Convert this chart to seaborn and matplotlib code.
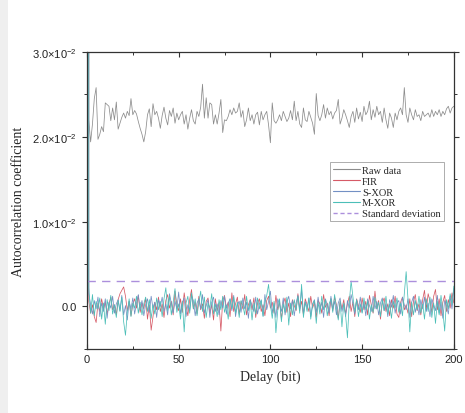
import numpy as np
import pandas as pd
import matplotlib
matplotlib.use("Agg")
import matplotlib.pyplot as plt
import seaborn as sns
from matplotlib.ticker import MultipleLocator
from matplotlib.patches import Rectangle

# ---------------- data (values in units of 1e-3, delay 1..200) ----------------
delay = list(range(0, 201))
zero_lag = [1000.0]  # autocorrelation at zero delay (off the chart)

raw_data = [
    22.0, 19.4, 21.5, 24.5, 25.8, 19.7, 20.3, 21.2, 20.6, 24.0,
    23.8, 23.6, 21.9, 23.4, 22.0, 24.1, 20.9, 21.6, 22.3, 22.8,
    22.2, 23.0, 22.5, 24.5, 22.6, 23.1, 22.7, 21.8, 21.0, 20.3,
    19.4, 20.6, 22.6, 23.3, 21.2, 23.9, 22.6, 23.0, 22.2, 21.0,
    22.5, 23.5, 22.2, 21.4, 23.1, 22.4, 23.4, 21.6, 22.8, 22.0,
    22.6, 23.0, 21.5, 22.6, 20.9, 22.2, 23.2, 21.9, 21.5, 23.0,
    22.4, 23.5, 26.2, 22.2, 24.6, 22.2, 24.0, 23.8, 21.5, 22.6,
    21.5, 22.8, 24.4, 20.5, 22.0, 21.9, 22.4, 23.2, 22.6, 23.4,
    22.8, 23.0, 24.0, 22.3, 23.1, 21.2, 22.0, 23.4, 21.9, 22.6,
    21.5, 22.6, 22.9, 21.4, 23.0, 22.0, 22.6, 23.0, 21.4, 19.3,
    24.0, 21.9, 21.6, 22.0, 22.6, 21.9, 23.0, 22.4, 21.8, 22.2,
    23.1, 22.0, 24.2, 21.9, 23.0, 21.5, 21.1, 23.4, 22.0, 21.8,
    23.0, 22.3, 21.6, 20.3, 25.1, 22.5, 21.9, 22.6, 23.8, 22.2,
    23.4, 22.6, 23.0, 22.1, 22.8, 23.1, 24.4, 21.5, 22.2, 23.2,
    22.6, 21.9, 21.1, 22.4, 23.0, 21.7, 23.4, 22.1, 22.9, 21.8,
    23.6, 22.6, 23.0, 24.2, 22.0, 23.2, 22.3, 23.6, 22.6, 23.0,
    21.7, 23.4, 22.0, 21.0, 22.8, 22.2, 21.1, 22.8, 22.0, 23.0,
    23.4, 22.6, 25.8, 22.6, 21.7, 23.4, 22.6, 22.0, 23.2, 22.4,
    22.6, 21.9, 23.0, 22.4, 22.6, 22.8, 22.3, 23.2, 22.4, 23.0,
    22.6, 23.2, 22.4, 23.0, 22.6, 23.3, 23.6, 22.8, 23.4, 23.6,
]

fir = [
    0.6, -0.8, 0.2, -1.2, -1.9, 0.4, -0.6, 0.9, -0.3, 0.5,
    -0.9, 0.3, 1.1, -0.4, 0.2, -1.0, 0.8, 1.5, 1.9, 2.3,
    1.2, -0.5, 0.6, -1.1, 0.3, 0.9, -0.2, 1.3, -0.7, 0.4,
    -0.3, 1.0, -1.5, 0.2, -2.8, -1.2, 0.5, -0.4, 1.1, -0.6,
    0.3, -1.3, 0.7, 1.4, -0.2, 0.6, -1.0, 1.8, 0.2, -0.5,
    0.9, -0.7, 1.6, 0.1, -1.1, 0.8, 2.0, -0.3, 0.5, -0.9,
    1.2, -0.4, 0.3, -1.4, 0.6, 1.0, -0.8, 0.2, -1.6, 0.9,
    -0.5, 0.4, -2.9, 0.7, 1.3, -0.2, 0.5, -1.2, 1.6, -0.6,
    0.3, 1.1, -0.9, 0.6, -0.3, 1.4, -1.0, 0.2, 0.8, -0.4,
    1.0, -1.3, 0.4, 0.9, -0.6, 0.2, -1.1, 0.7, 1.2, -0.2,
    0.5, -0.8, 1.3, -0.4, 0.6, -1.5, 0.3, 1.0, -0.7, 0.4,
    -1.2, 0.8, 0.1, -0.5, 1.5, -0.3, 0.6, -1.0, 0.9, 0.2,
    -0.6, 1.2, -0.2, 0.5, -1.3, 0.7, 0.3, -0.8, 1.4, -0.1,
    0.4, -1.1, 0.9, -0.5, 1.1, 0.2, -1.4, 0.6, -0.3, 0.8,
    -0.9, 0.3, 1.2, -0.6, 0.5, -1.2, 0.9, 0.1, -0.7, 1.0,
    -0.4, 0.6, -1.0, 1.3, 0.2, -0.8, 1.8, -0.3, 0.7, -1.5,
    0.4, 1.0, -0.6, 0.3, -1.1, 0.8, -0.2, 1.2, -0.9, -1.3,
    0.5, 1.1, -0.4, 0.2, -0.8, 0.9, -1.2, 0.6, 1.4, -0.5,
    0.3, -1.0, 0.8, 1.9, -0.3, 1.5, 0.6, -0.7, 1.2, 2.0,
    -0.4, 0.9, -1.1, 0.5, 1.3, -0.6, 0.8, -0.2, 1.6, 0.4,
]

s_xor = [
    1.5, 0.2, -0.9, 0.7, -0.3, 1.1, -1.2, 0.4, -0.6, 0.9,
    -1.4, 0.5, -0.2, 1.2, -0.8, 0.3, 0.8, -0.5, 1.3, -1.0,
    0.1, -1.6, 0.6, -0.3, 1.0, -0.9, 0.4, 1.4, -0.4, 0.7,
    -1.1, 0.2, 0.9, -0.7, 1.2, -0.2, 0.5, -1.3, 0.8, 0.0,
    1.1, -0.6, 0.3, -1.0, 1.5, 0.4, -0.8, 0.6, -0.3, 1.7,
    -0.9, 0.5, 1.0, -1.2, 0.2, -0.5, 1.3, 0.7, -1.1, 0.4,
    0.9, -0.3, 1.4, -0.8, 0.1, 0.8, -1.3, 0.5, 1.1, -0.6,
    0.3, -1.0, 0.7, -0.2, 1.2, -0.9, 0.4, 0.9, -0.5, 1.3,
    -1.2, 0.2, 0.6, -0.7, 1.0, -0.3, 0.5, -1.4, 0.8, 0.1,
    -0.6, 1.1, -0.9, 0.3, 0.7, -1.1, 1.4, -0.4, 0.6, 1.8,
    -0.8, 0.4, -1.3, 0.9, 0.2, -0.6, 1.0, -1.0, 0.5, 1.2,
    -0.3, 0.7, -1.1, 0.4, 1.3, -0.5, 2.1, -0.9, 0.6, -0.2,
    1.0, -1.2, 0.3, 0.8, -0.7, 1.1, -0.4, 0.5, -1.3, 0.9,
    0.2, -0.8, 1.2, -0.3, 0.6, -1.0, 0.4, 1.0, -0.6, 0.3,
    -1.2, 0.7, -0.2, 1.4, 0.3, -0.9, 0.8, -0.4, 1.1, -0.7,
    0.5, -1.1, 0.9, 0.1, -0.6, 1.2, -0.3, 0.6, -1.0, 0.4,
    1.0, -0.5, 0.3, -1.2, 0.8, -0.1, 1.3, -0.8, 0.4, 0.7,
    -0.9, 1.1, 0.2, -0.4, 0.9, -1.3, 0.5, 1.2, -0.7, 0.3,
    -1.0, 0.8, -0.3, 1.1, -0.6, 0.4, -1.2, 0.9, 0.2, -0.5,
    1.3, -0.8, 0.5, -1.4, 0.7, 0.1, -0.9, 1.2, -0.3, 2.1,
]

m_xor = [
    2.2, -0.8, 1.4, -1.1, 0.6, -0.3, 1.0, -1.5, 0.4, -2.1,
    0.8, -0.5, 1.3, -0.9, 0.2, -1.3, 0.7, -0.6, 1.1, -1.8,
    -3.4, -0.7, 0.9, -1.2, 0.4, -0.2, 1.2, -0.8, 0.5, -1.0,
    0.3, 1.1, -0.6, 0.8, -1.4, 0.2, -0.9, 1.0, -0.4, 0.6,
    -1.2, 0.9, 2.2, -0.5, 1.3, -1.0, 0.5, 2.1, -0.7, 0.3,
    -1.5, 0.6, -3.0, 0.4, 1.2, -0.8, 1.6, -0.3, 0.9, -1.1,
    0.5, 1.8, -0.6, 1.1, -1.3, 0.4, -0.2, 1.5, -0.9, 0.3,
    -1.2, 0.8, -0.4, 1.2, -0.7, 0.2, -1.5, 0.9, -0.3, 1.1,
    -0.8, 0.5, -1.3, 0.7, 0.1, -1.0, 1.2, -0.5, 0.6, -1.6,
    0.4, -0.9, 1.0, -0.3, 0.8, -1.2, 0.5, 1.3, 2.6, 0.2,
    -1.4, 0.6, -3.1, -0.5, 0.9, -1.8, 0.3, -0.7, 1.1, -2.2,
    0.4, -1.0, 0.8, -0.4, 1.2, -0.8, 2.6, -1.3, 0.5, -0.6,
    1.0, -1.5, 0.2, 0.7, -2.0, 0.5, -0.9, 1.2, -0.4, 0.8,
    -1.1, 0.3, 0.9, -0.7, 1.4, -0.2, -1.6, 0.6, -2.4, 0.4,
    -1.0, -3.7, 0.5, 3.0, 1.1, -0.6, 0.8, -1.2, 0.3, -0.8,
    1.0, -0.4, 0.6, -1.5, 0.2, -0.7, 1.1, -0.3, 0.5, -1.2,
    0.8, -0.5, 1.2, -0.9, 0.3, -1.4, 0.6, -0.2, 1.0, -0.7,
    0.4, -1.1, 1.5, 4.1, 0.9, -3.0, 0.5, -1.0, 0.7, -0.4,
    1.2, -0.8, 0.3, -1.5, 0.9, -0.6, 1.1, -1.3, 0.4, -2.0,
    0.6, -1.0, 1.3, -0.5, -2.9, 0.8, -0.3, 1.5, 0.2, 2.4,
]

std_dev = [3.0]  # standard deviation threshold (1e-3)

series_names = ["Raw data", "FIR", "S-XOR", "M-XOR"]
series_values = [raw_data, fir, s_xor, m_xor]
colors = ["#8c8c8c", "#d65a66", "#7390c4", "#4cbfb8"]
std_color = "#ac8fdc"

yticks = [0.0, 0.01, 0.02, 0.03]
ytick_labels = ["0.0", r"$1.0{\times}10^{-2}$", r"$2.0{\times}10^{-2}$", r"$3.0{\times}10^{-2}$"]
xticks = [0, 50, 100, 150, 200]

# ---------------- build long table ----------------
frames = []
for name, vals in zip(series_names, series_values):
    frames.append(pd.DataFrame({
        "Delay": delay,
        "value": np.array(zero_lag + vals) * 1e-3,
        "series": name,
    }))
df = pd.concat(frames, ignore_index=True)

# ---------------- plot ----------------
sns.set_theme(style="ticks")
plt.rcParams["font.family"] = ["Liberation Sans", "DejaVu Sans"]
plt.rcParams["mathtext.fontset"] = "custom"
plt.rcParams["mathtext.rm"] = "Liberation Sans"
plt.rcParams["mathtext.it"] = "Liberation Sans:italic"

fig = plt.figure(figsize=(4.65, 4.14), dpi=100)
fig.patch.set_facecolor("white")
fig.patches.append(Rectangle((0, 0), 8 / 465, 1, transform=fig.transFigure,
                             facecolor="#efefef", edgecolor="none", zorder=0))
ax = fig.add_axes([0.187, 0.155, 0.789, 0.717])

sns.lineplot(data=df, x="Delay", y="value", hue="series", hue_order=series_names,
             palette=dict(zip(series_names, colors)), linewidth=0.55, ax=ax,
             legend=False, estimator=None, sort=False)

ax.axhline(std_dev[0] * 1e-3, color=std_color, linestyle=(0, (6, 4.5)), linewidth=1.0)

ax.set_xlim(0, 200)
ax.set_ylim(-0.005, 0.030)
ax.set_xticks(xticks)
ax.xaxis.set_minor_locator(MultipleLocator(25))
ax.set_yticks(yticks)
ax.set_yticklabels(ytick_labels)
ax.yaxis.set_minor_locator(MultipleLocator(0.005))

ax.tick_params(axis="both", which="major", labelsize=8, length=3.5, width=0.8,
               direction="out", top=True, right=True, colors="#333333", labelcolor="#222222")
ax.tick_params(axis="both", which="minor", length=2.5, width=0.7,
               direction="out", top=True, right=True, colors="#333333")
ax.tick_params(axis="x", which="both", top=True, direction="in")
for side in ["top", "right", "bottom", "left"]:
    ax.spines[side].set_visible(True)
    ax.spines[side].set_linewidth(0.9)
    ax.spines[side].set_color("#333333")

serif = ["Liberation Serif", "DejaVu Serif"]
ax.set_xlabel("Delay (bit)", fontsize=10, family=serif, labelpad=4)
ax.set_ylabel("Autocorrelation coefficient", fontsize=10, family=serif, labelpad=5)

handles = [plt.Line2D([], [], color=c, linewidth=0.8) for c in colors]
handles.append(plt.Line2D([], [], color=std_color, linewidth=1.0, linestyle=(0, (3, 2))))
leg = ax.legend(handles, series_names + ["Standard deviation"], loc="upper right",
                bbox_to_anchor=(0.972, 0.628), prop={"family": serif, "size": 7.5},
                frameon=True, fancybox=False, handlelength=2.6, handletextpad=0.2,
                labelspacing=0.15, borderpad=0.3, borderaxespad=0)
leg.get_frame().set_edgecolor("#888888")
leg.get_frame().set_linewidth(0.6)

fig.savefig("out.png", dpi=100)
